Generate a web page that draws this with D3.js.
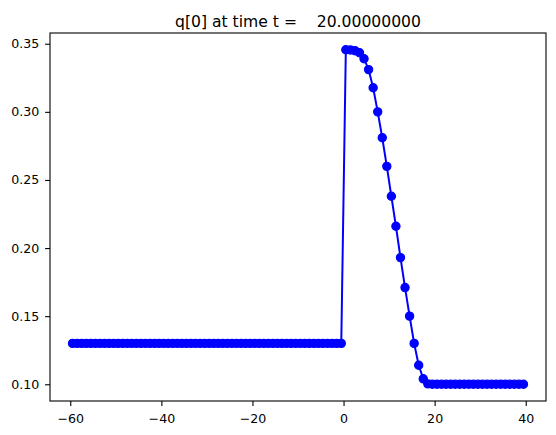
<!DOCTYPE html>
<html>
<head>
<meta charset="utf-8">
<script src="https://cdn.jsdelivr.net/npm/d3@7"></script>
<style>
  body { margin: 0; background: #fff; }
  svg { font-family: "DejaVu Sans", sans-serif; }
  .axis path, .axis line { stroke: #000; stroke-width: 1.1; }
</style>
</head>
<body>
<div id="chart"></div>
<script>
// cell centres of the grid
const xs = [
  -59.5, -58.5, -57.5, -56.5, -55.5, -54.5, -53.5, -52.5, -51.5, -50.5,
  -49.5, -48.5, -47.5, -46.5, -45.5, -44.5, -43.5, -42.5, -41.5, -40.5,
  -39.5, -38.5, -37.5, -36.5, -35.5, -34.5, -33.5, -32.5, -31.5, -30.5,
  -29.5, -28.5, -27.5, -26.5, -25.5, -24.5, -23.5, -22.5, -21.5, -20.5,
  -19.5, -18.5, -17.5, -16.5, -15.5, -14.5, -13.5, -12.5, -11.5, -10.5,
  -9.5, -8.5, -7.5, -6.5, -5.5, -4.5, -3.5, -2.5, -1.5, -0.5,
  0.5, 1.5, 2.5, 3.5, 4.5, 5.5, 6.5, 7.5, 8.5, 9.5,
  10.5, 11.5, 12.5, 13.5, 14.5, 15.5, 16.5, 17.5, 18.5, 19.5,
  20.5, 21.5, 22.5, 23.5, 24.5, 25.5, 26.5, 27.5, 28.5, 29.5,
  30.5, 31.5, 32.5, 33.5, 34.5, 35.5, 36.5, 37.5, 38.5, 39.5
];
// q[0] values
const q0 = [
  0.13, 0.13, 0.13, 0.13, 0.13, 0.13, 0.13, 0.13, 0.13, 0.13,
  0.13, 0.13, 0.13, 0.13, 0.13, 0.13, 0.13, 0.13, 0.13, 0.13,
  0.13, 0.13, 0.13, 0.13, 0.13, 0.13, 0.13, 0.13, 0.13, 0.13,
  0.13, 0.13, 0.13, 0.13, 0.13, 0.13, 0.13, 0.13, 0.13, 0.13,
  0.13, 0.13, 0.13, 0.13, 0.13, 0.13, 0.13, 0.13, 0.13, 0.13,
  0.13, 0.13, 0.13, 0.13, 0.13, 0.13, 0.13, 0.13, 0.13, 0.13,
  0.3456, 0.3454, 0.3449, 0.3434, 0.339, 0.331, 0.3177, 0.300, 0.281, 0.260,
  0.238, 0.216, 0.193, 0.171, 0.150, 0.130, 0.114, 0.104, 0.1003, 0.1,
  0.1, 0.1, 0.1, 0.1, 0.1, 0.1, 0.1, 0.1, 0.1, 0.1,
  0.1, 0.1, 0.1, 0.1, 0.1, 0.1, 0.1, 0.1, 0.1, 0.1
];
const xTicks = [-60, -40, -20, 0, 20, 40];
const yTicks = [0.10, 0.15, 0.20, 0.25, 0.30, 0.35];
const titleText = "q[0] at time t =    20.00000000";

const widthSvg = 556, heightSvg = 435;
const margin = {top: 33, right: 10, bottom: 34, left: 50};
const width = widthSvg - margin.left - margin.right;
const height = heightSvg - margin.top - margin.bottom;

const data = xs.map((x, i) => ({x: x, q: q0[i]}));

// matplotlib style 5% margins
const xExt = d3.extent(xs), yExt = d3.extent(q0);
const xPad = (xExt[1] - xExt[0]) * 0.05, yPad = (yExt[1] - yExt[0]) * 0.05;

const x = d3.scaleLinear().domain([xExt[0] - xPad, xExt[1] + xPad]).range([0, width]);
const y = d3.scaleLinear().domain([yExt[0] - yPad, yExt[1] + yPad]).range([height, 0]);

const svg = d3.select("#chart").append("svg")
    .attr("width", widthSvg)
    .attr("height", heightSvg);

const g = svg.append("g")
    .attr("transform", "translate(" + margin.left + "," + margin.top + ")");

g.append("g")
    .attr("class", "axis")
    .attr("transform", "translate(0," + height + ")")
    .call(d3.axisBottom(x).tickValues(xTicks).tickFormat(d3.format("d")).tickSize(4.9).tickPadding(8))
    .attr("font-size", 12.6)
    .attr("font-family", "DejaVu Sans")
    .call(a => a.select(".domain").remove());

g.append("g")
    .attr("class", "axis")
    .call(d3.axisLeft(y).tickValues(yTicks).tickFormat(d3.format(".2f")).tickSize(4.9).tickPadding(5.8))
    .attr("font-size", 12.6)
    .attr("font-family", "DejaVu Sans")
    .call(a => a.select(".domain").remove());

g.selectAll(".axis text").attr("fill", "#000");

const line = d3.line()
    .x(d => x(d.x))
    .y(d => y(d.q));

g.append("path")
    .datum(data)
    .attr("fill", "none")
    .attr("stroke", "#0000ff")
    .attr("stroke-width", 2)
    .attr("d", line);

g.selectAll(".pt")
    .data(data)
    .enter().append("circle")
    .attr("class", "pt")
    .attr("cx", d => x(d.x))
    .attr("cy", d => y(d.q))
    .attr("r", 4.1)
    .attr("fill", "#0000ff")
    .attr("stroke", "#0000ff")
    .attr("stroke-width", 1.2);

// axes frame
g.append("rect")
    .attr("width", width)
    .attr("height", height)
    .attr("fill", "none")
    .attr("stroke", "#000")
    .attr("stroke-width", 1.1);

svg.append("text")
    .attr("x", margin.left + width / 2)
    .attr("y", 26.5)
    .attr("text-anchor", "middle")
    .style("white-space", "pre")
    .style("font-size", "15.6px")
    .text(titleText);
</script>
</body>
</html>
